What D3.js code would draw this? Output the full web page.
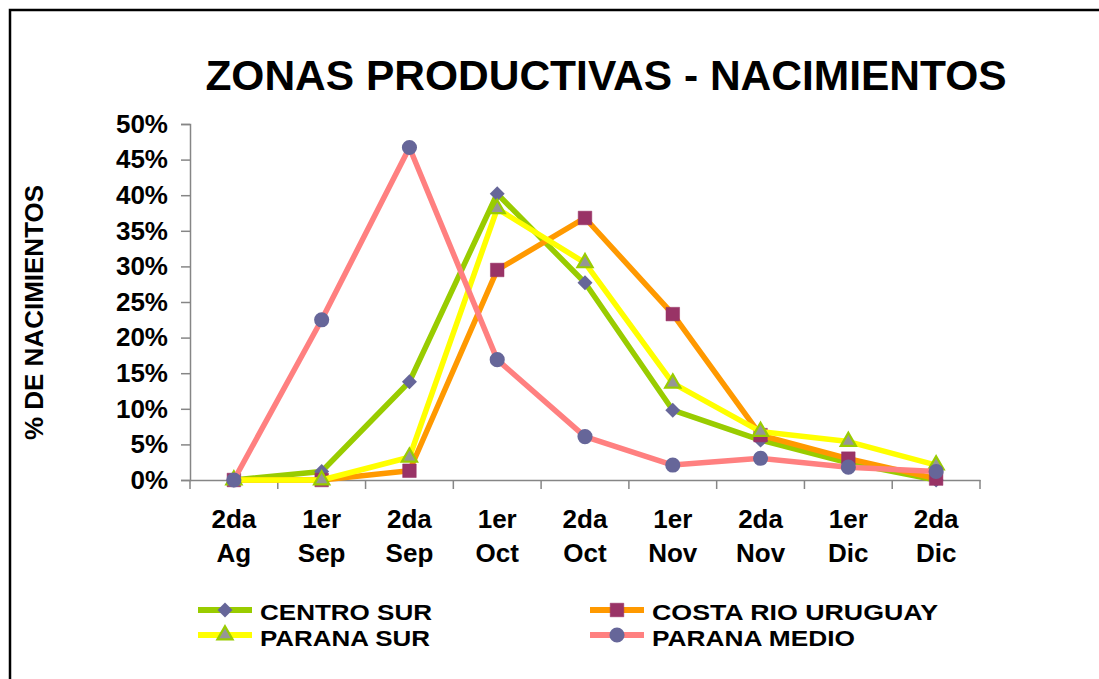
<!DOCTYPE html>
<html>
<head>
<meta charset="utf-8">
<script src="https://cdn.jsdelivr.net/npm/d3@7"></script>
<style>
  html, body { margin: 0; padding: 0; background: #fff; }
  svg { display: block; font-family: "Liberation Sans", Arial, sans-serif; font-weight: bold; }
</style>
</head>
<body>
<svg id="chart" width="1099" height="679"></svg>
<script>
// ---- data ----
const categoriesTop = ["2da", "1er", "2da", "1er", "2da", "1er", "2da", "1er", "2da"];
const categoriesBottom = ["Ag", "Sep", "Sep", "Oct", "Oct", "Nov", "Nov", "Dic", "Dic"];
const categories = categoriesTop.map((t, i) => t + " " + categoriesBottom[i]);

const seriesNames = ["CENTRO SUR", "COSTA RIO URUGUAY", "PARANA SUR", "PARANA MEDIO"];
const centroSur = [0, 1.2, 13.8, 40.2, 27.7, 9.8, 5.6, 2.4, 0];
const costaRioUruguay = [0, 0, 1.3, 29.5, 36.8, 23.3, 6.3, 3.0, 0.2];
const paranaSur = [0, 0, 3.2, 38.1, 30.5, 13.6, 6.8, 5.4, 2.1];
const paranaMedio = [0, 22.5, 46.7, 16.9, 6.1, 2.1, 3.05, 1.8, 1.2];

const yTicks = [0, 5, 10, 15, 20, 25, 30, 35, 40, 45, 50];
const titleText = "ZONAS PRODUCTIVAS - NACIMIENTOS";
const yTitleText = "% DE NACIMIENTOS";

// ---- styles ----
const styles = [
  { line: "#99CC00", fill: "#666699", stroke: "none", sym: d3.symbolSquare, size: 112, sw: 0, rot: 45, tl: 172 },
  { line: "#FF9900", fill: "#993366", stroke: "#993366", sym: d3.symbolSquare, size: 185, sw: 0.5, rot: 0, tl: 286 },
  { line: "#FFFF00", fill: "#969696", stroke: "#99CC00", sym: d3.symbolTriangle, size: 100, sw: 2.2, rot: 0, tl: 170 },
  { line: "#FF8080", fill: "#666699", stroke: "none", sym: d3.symbolCircle, size: 180, sw: 0, rot: 0, tl: 203 }
];
const allSeries = [centroSur, costaRioUruguay, paranaSur, paranaMedio];

const svg = d3.select("#chart");

// border frame
svg.append("rect").attr("x", 10).attr("y", 10).attr("width", 1200).attr("height", 800)
  .attr("fill", "none").attr("stroke", "#000").attr("stroke-width", 2.5);

// title
svg.append("text").attr("x", 606).attr("y", 90).attr("text-anchor", "middle")
  .attr("font-size", 42.5).attr("fill", "#000").text(titleText);

// scales
const x = d3.scaleBand().domain(categories).range([190, 980]).paddingInner(0).paddingOuter(0);
const y = d3.scaleLinear().domain([0, 50]).range([480, 124]);
const cx = c => x(c) + x.bandwidth() / 2;

// y axis
const yAxis = svg.append("g").attr("transform", "translate(190,0)")
  .call(d3.axisLeft(y).tickValues(yTicks).tickFormat(d => d + "%").tickSize(9).tickPadding(13));
yAxis.select(".domain").attr("stroke", "#868686").attr("stroke-width", 1.5);
yAxis.selectAll(".tick line").attr("stroke", "#868686").attr("stroke-width", 1.5);
yAxis.selectAll(".tick text").attr("font-size", 26).attr("font-family", "Liberation Sans, Arial, sans-serif")
  .attr("font-weight", "bold").attr("fill", "#000");

// x axis
const xAxis = svg.append("g").attr("transform", "translate(0,480)")
  .call(d3.axisBottom(x).tickSize(0).tickFormat(""));
xAxis.select(".domain").attr("stroke", "#868686").attr("stroke-width", 1.5);
const boundaries = categories.map(c => x(c)).concat([x.range()[1]]);
xAxis.selectAll("line.bnd").data(boundaries).join("line").attr("class", "bnd")
  .attr("x1", d => d).attr("x2", d => d).attr("y1", 0).attr("y2", 9)
  .attr("stroke", "#868686").attr("stroke-width", 1.5);
const xl = svg.append("g").selectAll("text").data(categories).join("text")
  .attr("text-anchor", "middle").attr("font-size", 26).attr("fill", "#000");
xl.append("tspan").attr("x", d => cx(d)).attr("y", 528).text((d, i) => categoriesTop[i]);
xl.append("tspan").attr("x", d => cx(d)).attr("y", 562).text((d, i) => categoriesBottom[i]);

// y title
svg.append("text").attr("transform", "translate(43,312.5) rotate(-90)")
  .attr("text-anchor", "middle").attr("font-size", 26).attr("fill", "#000").text(yTitleText);

// series
const line = d3.line().x((d, i) => cx(categories[i])).y(d => y(d));
allSeries.forEach((vals, si) => {
  const st = styles[si];
  const g = svg.append("g");
  g.append("path").datum(vals).attr("d", line).attr("fill", "none")
    .attr("stroke", st.line).attr("stroke-width", 5.5).attr("stroke-linejoin", "round");
  g.selectAll("path.m").data(vals).join("path").attr("class", "m")
    .attr("transform", (d, i) => `translate(${cx(categories[i])},${y(d)}) rotate(${st.rot})`)
    .attr("d", d3.symbol().type(st.sym).size(st.size))
    .attr("fill", st.fill).attr("stroke", st.stroke).attr("stroke-width", st.sw);
});

// legend
const legendPos = [
  { lx: 198, ly: 610, tx: 260, ty: 620 },
  { lx: 590, ly: 610, tx: 652, ty: 620 },
  { lx: 198, ly: 635, tx: 260, ty: 646 },
  { lx: 590, ly: 635, tx: 652, ty: 646 }
];
seriesNames.forEach((name, si) => {
  const st = styles[si], p = legendPos[si];
  const g = svg.append("g");
  g.append("line").attr("x1", p.lx).attr("x2", p.lx + 54).attr("y1", p.ly).attr("y2", p.ly)
    .attr("stroke", st.line).attr("stroke-width", 6);
  g.append("path").attr("transform", `translate(${p.lx + 27},${p.ly}) rotate(${st.rot})`)
    .attr("d", d3.symbol().type(st.sym).size(st.size))
    .attr("fill", st.fill).attr("stroke", st.stroke).attr("stroke-width", st.sw);
  g.append("text").attr("x", p.tx).attr("y", p.ty).attr("font-size", 22.5).attr("fill", "#000")
    .attr("textLength", st.tl).attr("lengthAdjust", "spacingAndGlyphs").text(name);
});
</script>
</body>
</html>
